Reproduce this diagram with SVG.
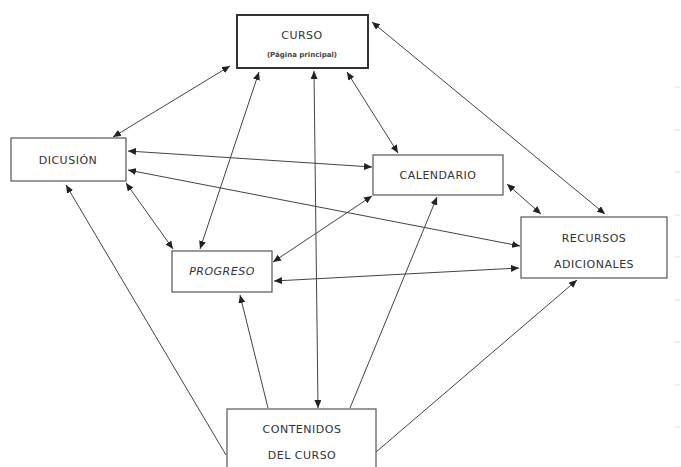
<svg xmlns="http://www.w3.org/2000/svg" width="681" height="467" viewBox="0 0 681 467">
<defs>
<marker id="ah" viewBox="0 0 8 7" refX="8" refY="3.5" markerWidth="8" markerHeight="7" markerUnits="userSpaceOnUse" orient="auto-start-reverse">
<path d="M0,0 L8,3.5 L0,7 z" fill="#222"/>
</marker>
<style>
.box{fill:#fff;stroke:#555;stroke-width:1.2}
.main{fill:#fff;stroke:#333;stroke-width:2}
.t{font-family:"DejaVu Sans",sans-serif;font-size:11px;fill:#333;text-anchor:middle;letter-spacing:0.5px}
.s{font-family:"DejaVu Sans",sans-serif;font-size:7px;font-weight:bold;fill:#444;text-anchor:middle}
.c line{stroke:#444;stroke-width:1;fill:none}
.bi{marker-start:url(#ah);marker-end:url(#ah)}
.one{marker-end:url(#ah)}
.tick{stroke:#ddd;stroke-width:1}
</style>
</defs>
<rect width="681" height="467" fill="#fff"/>
<g id="ticks">
<line class="tick" x1="675" y1="87" x2="680" y2="87"/>
<line class="tick" x1="675" y1="130" x2="680" y2="130"/>
<line class="tick" x1="675" y1="172" x2="680" y2="172"/>
<line class="tick" x1="675" y1="215" x2="680" y2="215"/>
<line class="tick" x1="675" y1="257" x2="680" y2="257"/>
<line class="tick" x1="675" y1="300" x2="680" y2="300"/>
<line class="tick" x1="675" y1="342" x2="680" y2="342"/>
<line class="tick" x1="675" y1="385" x2="680" y2="385"/>
<line class="tick" x1="675" y1="427" x2="680" y2="427"/>
</g>
<g id="connectors" class="c">
<line class="bi" x1="230" y1="66" x2="113" y2="137"/>
<line class="bi" x1="259" y1="72" x2="200" y2="249"/>
<line class="bi" x1="314" y1="71" x2="318" y2="408"/>
<line class="bi" x1="347" y1="72" x2="398" y2="153"/>
<line class="bi" x1="372" y1="22" x2="605" y2="214"/>
<line class="bi" x1="128" y1="151" x2="372" y2="167"/>
<line class="bi" x1="128" y1="170" x2="520" y2="246"/>
<line class="bi" x1="126" y1="183" x2="173" y2="249"/>
<line class="bi" x1="372" y1="196" x2="273" y2="262"/>
<line class="bi" x1="507" y1="184" x2="541" y2="214"/>
<line class="bi" x1="274" y1="281" x2="519" y2="268"/>
<line class="one" x1="226" y1="455" x2="66" y2="185"/>
<line class="one" x1="268" y1="408" x2="240" y2="295"/>
<line class="one" x1="350" y1="408" x2="437" y2="197"/>
<line class="one" x1="376" y1="452" x2="577" y2="280"/>
</g>
<g id="curso">
<rect class="main" x="237" y="15" width="131" height="53"/>
<text class="t" x="302" y="39">CURSO</text>
<text class="s" x="302" y="57">(Página principal)</text>
</g>
<g id="dicusion">
<rect class="box" x="11" y="138" width="115" height="43"/>
<text class="t" x="68" y="164">DICUSIÓN</text>
</g>
<g id="calendario">
<rect class="box" x="373" y="155" width="130" height="40"/>
<text class="t" x="438" y="179">CALENDARIO</text>
</g>
<g id="recursos">
<rect class="box" x="521" y="217" width="146" height="61"/>
<text class="t" x="594" y="242">RECURSOS</text>
<text class="t" x="594" y="268">ADICIONALES</text>
</g>
<g id="progreso">
<rect class="box" x="172" y="251" width="100" height="41"/>
<text class="t" x="222" y="275" font-style="italic">PROGRESO</text>
</g>
<g id="contenidos">
<rect class="box" x="227" y="409" width="149" height="62"/>
<text class="t" x="302" y="433">CONTENIDOS</text>
<text class="t" x="302" y="459">DEL CURSO</text>
</g>
</svg>
